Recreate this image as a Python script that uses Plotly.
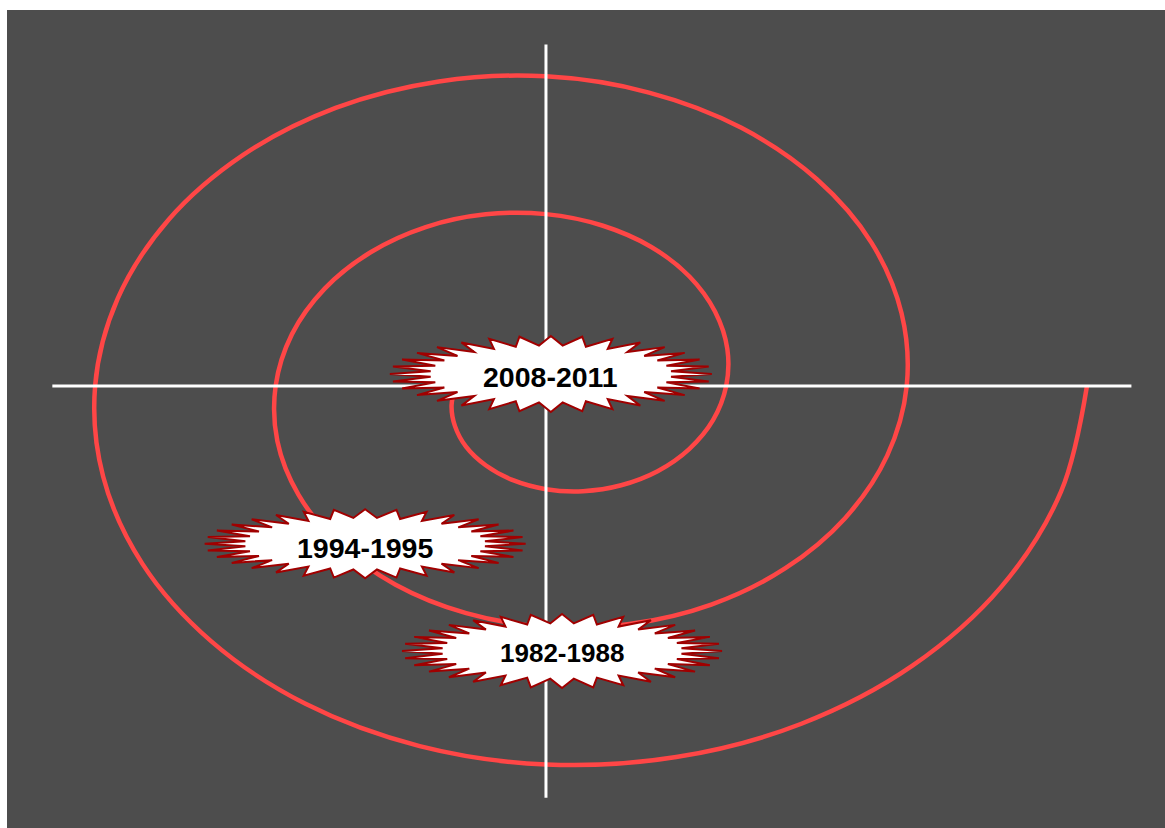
import math
import plotly.graph_objects as go

# ---- data (data units: spiral radius grows ~1 unit per radian) ----
spiral_x = [-3.14, -3.29, -3.17, -2.78, -2.09, -1.15, 0.0, 1.29, 2.62, 3.89, 4.99, 5.82,
            6.28, 6.32, 5.89, 5.00, 3.67, 1.96, 0.0, -2.10, -4.19, -6.11, -7.71, -8.85,
            -9.42, -9.36, -8.62, -7.22, -5.24, -2.78, 0.0, 2.91, 5.76, 8.33, 10.43, 11.89,
            12.57, 12.39, 11.34, 9.44, 6.81, 3.59, 0.0, -3.73, -7.33, -10.55, -13.15, -14.92,
            -15.71, -15.43, -14.06, -11.66, -8.38, -4.40, 0.0, 4.54, 8.90, 12.77, 15.87, 17.95,
            18.85]
spiral_y = [0.0, -0.88, -1.83, -2.78, -3.63, -4.30, -4.71, -4.80, -4.53, -3.89, -2.88, -1.56,
            0.0, 1.69, 3.40, 5.00, 6.35, 7.33, 7.85, 7.84, 7.26, 6.11, 4.45, 2.37,
            0.0, -2.51, -4.97, -7.22, -9.07, -10.37, -11.00, -10.87, -9.98, -8.33, -6.02, -3.18,
            0.0, 3.32, 6.55, 9.44, 11.79, 13.40, 14.14, 13.91, 12.70, 10.55, 7.59, 4.00,
            0.0, -4.13, -8.12, -11.66, -14.51, -16.44, -17.28, -16.94, -15.42, -12.77, -9.16, -4.81,
            0.0]

axis_h_x = [-17.2, 20.4]
axis_h_y = [0, 0]
axis_v_x = [0, 0]
axis_v_y = [-18.8, 15.6]

labels = ["2008-2011", "1994-1995", "1982-1988"]
label_x = [0.15, -6.3, 0.55]
label_y = [0.4, -7.4, -12.2]
burst_x = [0.17, -6.3, 0.56]
burst_y = [0.55, -7.2, -12.1]

# ---- styles ----
BG = "#4d4d4d"
RED = "#ff4646"
X_RANGE = [-18.78, 21.57]
Y_RANGE = [-20.18, 17.17]
PX_X = 28.7   # pixels per x unit
PX_Y = 21.9   # pixels per y unit
burst_w_px = [322, 321, 320]
burst_h_px = [76, 69, 74]
label_size = [28.5, 28.5, 26]


def star_path(cx, cy, rx, ry, points=32, inner=0.75):
    parts = []
    n = points * 2
    for i in range(n):
        a = math.pi / 2 - i * 2 * math.pi / n
        f = 1.0 if i % 2 == 0 else inner
        px = cx + rx * f * math.cos(a)
        py = cy + ry * f * math.sin(a)
        parts.append(("M" if i == 0 else "L") + f"{px:.4f},{py:.4f}")
    return " ".join(parts) + " Z"


fig = go.Figure()
fig.add_trace(go.Scatter(x=spiral_x, y=spiral_y, mode="lines",
                         line=dict(color=RED, width=4.5, shape="spline", smoothing=1),
                         hoverinfo="skip"))
fig.add_trace(go.Scatter(x=axis_h_x, y=axis_h_y, mode="lines",
                         line=dict(color="white", width=3), hoverinfo="skip"))
fig.add_trace(go.Scatter(x=axis_v_x, y=axis_v_y, mode="lines",
                         line=dict(color="white", width=3), hoverinfo="skip"))

for i, lab in enumerate(labels):
    rx = burst_w_px[i] / 2 / PX_X
    ry = burst_h_px[i] / 2 / PX_Y
    fig.add_shape(type="path", xref="x", yref="y", layer="above",
                  path=star_path(burst_x[i], burst_y[i], rx, ry),
                  fillcolor="white", line=dict(color="#a00000", width=2))
    fig.add_annotation(x=label_x[i], y=label_y[i], xref="x", yref="y",
                       text=f"<b>{lab}</b>", showarrow=False,
                       font=dict(family="Liberation Sans, Arial, sans-serif",
                                 size=label_size[i], color="black"),
                       xanchor="center", yanchor="middle")

fig.update_layout(
    width=1165, height=828,
    margin=dict(l=7, r=0, t=10, b=0, pad=0),
    paper_bgcolor="white", plot_bgcolor=BG,
    showlegend=False, hovermode=False,
    xaxis=dict(range=X_RANGE, visible=False, fixedrange=True),
    yaxis=dict(range=Y_RANGE, visible=False, fixedrange=True),
)

fig.write_html("out.html", config={"displayModeBar": False},
               post_script="document.body.style.margin='0';document.body.style.overflow='hidden';")
